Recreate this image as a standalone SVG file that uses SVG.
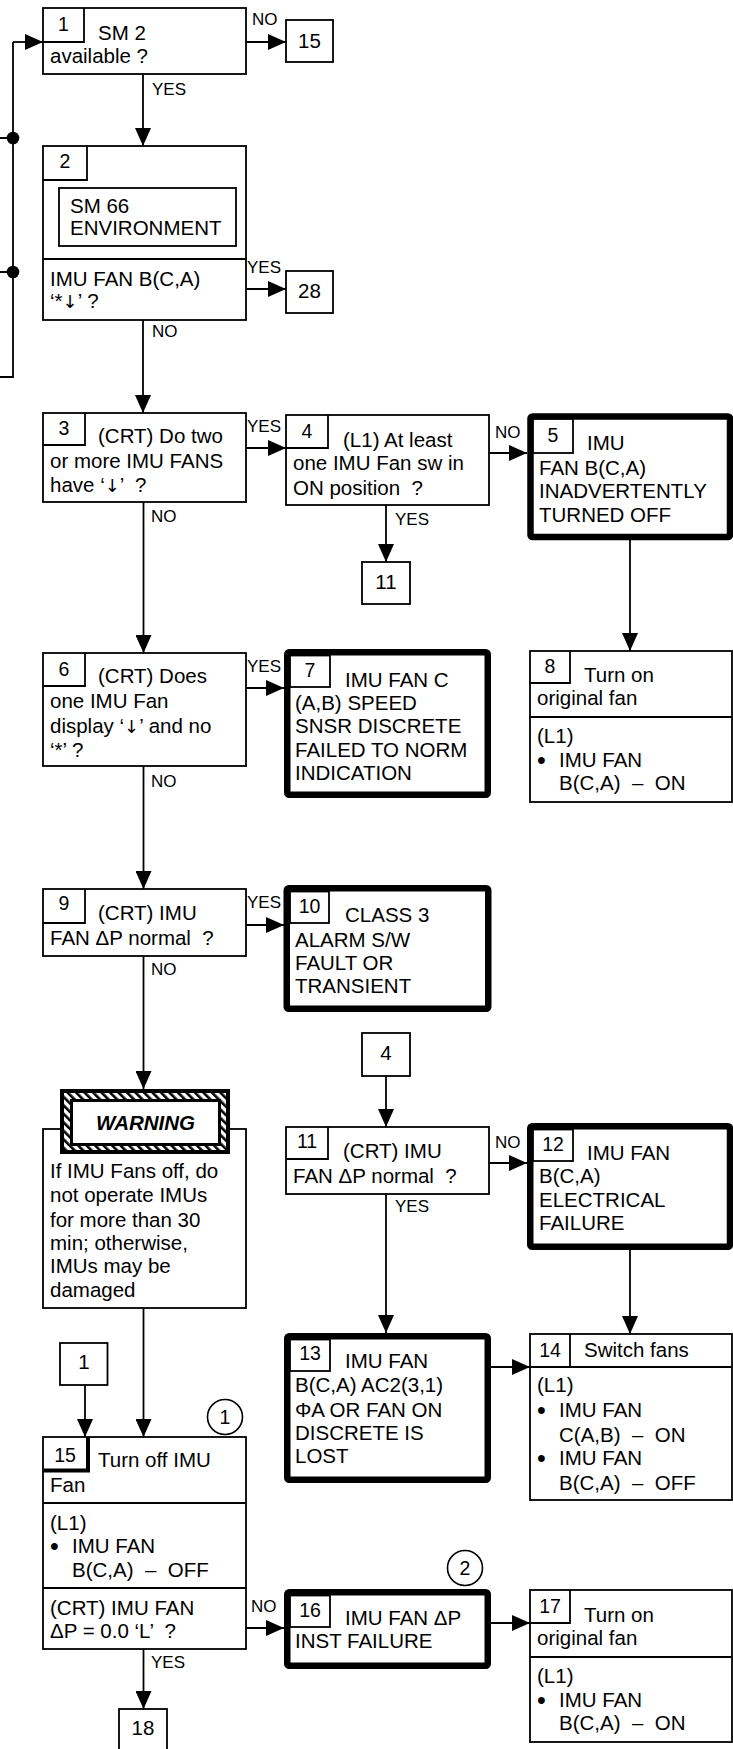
<svg xmlns="http://www.w3.org/2000/svg" width="733" height="1749" viewBox="0 0 733 1749">
<style>
text{font-family:"Liberation Sans",Arial,sans-serif;fill:#000}
.t{font-size:20.5px}
.n{font-size:19.5px;text-anchor:middle}
.r{font-size:20.5px;text-anchor:middle}
.l{font-size:17px}
.ar{font-family:"DejaVu Sans",sans-serif;font-size:18px}
.bu{font-size:25px}
.box{fill:#fff;stroke:#000;stroke-width:1.8}
.thick{fill:#fff;stroke:#000;stroke-width:6.5}
.ln{fill:none;stroke:#000;stroke-width:1.8}
.c{fill:none;stroke:#000;stroke-width:1.8}
.a{fill:none;stroke:#000;stroke-width:1.8;marker-end:url(#ah)}
.w{font-size:20.5px;font-weight:bold;font-style:italic;text-anchor:middle}
</style>
<defs>
<marker id="ah" markerWidth="18" markerHeight="16" refX="18" refY="8" orient="auto" markerUnits="userSpaceOnUse">
<path d="M0,0 L18,8 L0,16 z" fill="#000"/>
</marker>
<pattern id="hatch" width="6" height="6" patternUnits="userSpaceOnUse" patternTransform="rotate(-45)">
<rect width="6" height="6" fill="#fff"/>
<rect width="2.6" height="6" fill="#000"/>
</pattern>
</defs>
<rect width="733" height="1749" fill="#fff"/>

<g id="connectors">
<path class="c" d="M0,138 H13 M0,272 H13 M0,377 H13 V42"/>
<path class="a" d="M13,42 H43"/>
<circle cx="13" cy="138" r="6.3" fill="#000"/>
<circle cx="13" cy="272" r="6.3" fill="#000"/>
<path class="a" d="M246,42 H286"/>
<text class="l" x="252" y="25">NO</text>
<path class="a" d="M143,74 V146"/>
<text class="l" x="152" y="95">YES</text>
<path class="a" d="M246,289 H286"/>
<text class="l" x="247" y="273">YES</text>
<path class="a" d="M143,320 V413"/>
<text class="l" x="152" y="337">NO</text>
<path class="a" d="M246,448 H286"/>
<text class="l" x="247" y="432">YES</text>
<path class="a" d="M489,453 H527"/>
<text class="l" x="495" y="438">NO</text>
<path class="a" d="M386,505 V562"/>
<text class="l" x="395" y="525">YES</text>
<path class="a" d="M630,540 V651"/>
<path class="a" d="M143.5,502 V653"/>
<text class="l" x="151" y="522">NO</text>
<path class="a" d="M246,688 H284"/>
<text class="l" x="247" y="672">YES</text>
<path class="a" d="M143.5,766 V889"/>
<text class="l" x="151" y="787">NO</text>
<path class="a" d="M246,925 H284"/>
<text class="l" x="247" y="908">YES</text>
<path class="a" d="M143.5,956 V1089"/>
<text class="l" x="151" y="975">NO</text>
<path class="a" d="M386,1076 V1127"/>
<path class="a" d="M489,1163 H527"/>
<text class="l" x="495" y="1148">NO</text>
<path class="a" d="M386,1194 V1333"/>
<text class="l" x="395" y="1212">YES</text>
<path class="a" d="M630,1250 V1334"/>
<path class="a" d="M491,1367 H530"/>
<path class="a" d="M143.5,1308 V1437"/>
<path class="a" d="M85,1385 V1437"/>
<path class="a" d="M246,1628 H284"/>
<text class="l" x="251" y="1612">NO</text>
<path class="a" d="M491,1623 H530"/>
<path class="a" d="M143.5,1649 V1709"/>
<text class="l" x="151" y="1668">YES</text>
</g>

<g id="ref15"><rect class="box" x="286" y="20" width="47" height="42"/><text class="r" x="309.5" y="48">15</text></g>
<g id="ref28"><rect class="box" x="286" y="271" width="47" height="42"/><text class="r" x="309.5" y="298">28</text></g>
<g id="ref11"><rect class="box" x="362" y="562" width="48" height="42"/><text class="r" x="386" y="589">11</text></g>
<g id="ref4"><rect class="box" x="362" y="1033" width="48" height="43"/><text class="r" x="386" y="1060">4</text></g>
<g id="ref1"><rect class="box" x="60" y="1343" width="47.5" height="42"/><text class="r" x="84" y="1369">1</text></g>
<g id="ref18"><rect class="box" x="119" y="1709" width="48" height="60"/><text class="r" x="143" y="1735">18</text></g>

<g id="node1">
<rect class="box" x="43" y="8" width="203" height="66"/>
<path class="ln" d="M43,42 H84 V8"/>
<text class="n" x="63.5" y="31">1</text>
<text class="t" x="98" y="40">SM 2</text>
<text class="t" x="50" y="63">available ?</text>
</g>

<g id="node2">
<rect class="box" x="43" y="146" width="203" height="174"/>
<path class="ln" d="M43,180 H87 V146 M43,259 H246"/>
<rect class="box" x="59" y="188" width="177" height="58"/>
<text class="n" x="65" y="168">2</text>
<text class="t" x="70" y="213">SM 66</text>
<text class="t" x="70" y="235">ENVIRONMENT</text>
<text class="t" x="50" y="286">IMU FAN B(C,A)</text>
<text class="t" x="50" y="308">‘*<tspan class="ar">↓</tspan>’ ?</text>
</g>

<g id="node3">
<rect class="box" x="43" y="413" width="203" height="89"/>
<path class="ln" d="M43,445 H85 V413"/>
<text class="n" x="64" y="435">3</text>
<text class="t" x="98" y="443">(CRT) Do two</text>
<text class="t" x="50" y="468">or more IMU FANS</text>
<text class="t" x="50" y="492" xml:space="preserve">have ‘<tspan class="ar">↓</tspan>’  ?</text>
</g>

<g id="node4">
<rect class="box" x="286" y="415" width="203" height="90"/>
<path class="ln" d="M286,448 H328 V415"/>
<text class="n" x="307" y="438">4</text>
<text class="t" x="343" y="447">(L1) At least</text>
<text class="t" x="293" y="470">one IMU Fan sw in</text>
<text class="t" x="293" y="495" xml:space="preserve">ON position  ?</text>
</g>

<g id="node5">
<rect class="thick" x="530.5" y="416.5" width="199.5" height="120.5" rx="2"/>
<rect class="box" x="533" y="419" width="40" height="34"/>
<text class="n" x="553" y="442">5</text>
<text class="t" x="587" y="450">IMU</text>
<text class="t" x="539" y="475">FAN B(C,A)</text>
<text class="t" x="539" y="498">INADVERTENTLY</text>
<text class="t" x="539" y="522">TURNED OFF</text>
</g>

<g id="node6">
<rect class="box" x="43" y="653" width="203" height="113"/>
<path class="ln" d="M43,686 H85 V653"/>
<text class="n" x="64" y="676">6</text>
<text class="t" x="98" y="683">(CRT) Does</text>
<text class="t" x="50" y="708">one IMU Fan</text>
<text class="t" x="50" y="733">display ‘<tspan class="ar">↓</tspan>’ and no</text>
<text class="t" x="50" y="757">‘*’ ?</text>
</g>

<g id="node7">
<rect class="thick" x="287.25" y="652.25" width="200.5" height="142.5" rx="2"/>
<rect class="box" x="290" y="655.5" width="40" height="31.5"/>
<text class="n" x="310" y="677">7</text>
<text class="t" x="345" y="687">IMU FAN C</text>
<text class="t" x="295" y="710">(A,B) SPEED</text>
<text class="t" x="295" y="733">SNSR DISCRETE</text>
<text class="t" x="295" y="757">FAILED TO NORM</text>
<text class="t" x="295" y="780">INDICATION</text>
</g>

<g id="node8">
<rect class="box" x="530" y="651" width="202" height="151"/>
<path class="ln" d="M530,683 H570 V651 M530,717 H732"/>
<text class="n" x="550" y="673">8</text>
<text class="t" x="584" y="682">Turn on</text>
<text class="t" x="537" y="705">original fan</text>
<text class="t" x="537" y="743">(L1)</text>
<text class="bu" x="537" y="769">•</text>
<text class="t" x="559" y="767">IMU FAN</text>
<text class="t" x="559" y="790" xml:space="preserve">B(C,A)  –  ON</text>
</g>

<g id="node9">
<rect class="box" x="43" y="889" width="203" height="67"/>
<path class="ln" d="M43,923 H85 V889"/>
<text class="n" x="64" y="910">9</text>
<text class="t" x="98" y="920">(CRT) IMU</text>
<text class="t" x="50" y="945" xml:space="preserve">FAN ΔP normal  ?</text>
</g>

<g id="node10">
<rect class="thick" x="286.75" y="888.25" width="201.5" height="120.5" rx="2"/>
<rect class="box" x="290" y="891.5" width="39" height="31.5"/>
<text class="n" x="309.5" y="913">10</text>
<text class="t" x="345" y="922">CLASS 3</text>
<text class="t" x="295" y="947">ALARM S/W</text>
<text class="t" x="295" y="970">FAULT OR</text>
<text class="t" x="295" y="993">TRANSIENT</text>
</g>

<g id="warning">
<rect class="box" x="43" y="1129" width="203" height="179"/>
<rect x="62" y="1091" width="166" height="61" fill="url(#hatch)" stroke="#000" stroke-width="4"/>
<rect x="71.5" y="1100.5" width="148" height="44" fill="#fff" stroke="#000" stroke-width="3"/>
<text class="w" x="145.5" y="1130">WARNING</text>
<text class="t" x="50" y="1178">If IMU Fans off, do</text>
<text class="t" x="50" y="1202">not operate IMUs</text>
<text class="t" x="50" y="1227">for more than 30</text>
<text class="t" x="50" y="1250">min; otherwise,</text>
<text class="t" x="50" y="1273">IMUs may be</text>
<text class="t" x="50" y="1297">damaged</text>
</g>

<g id="node11">
<rect class="box" x="286" y="1127" width="203" height="67"/>
<path class="ln" d="M286,1159 H328 V1127"/>
<text class="n" x="307" y="1148">11</text>
<text class="t" x="343" y="1158">(CRT) IMU</text>
<text class="t" x="293" y="1183" xml:space="preserve">FAN ΔP normal  ?</text>
</g>

<g id="node12">
<rect class="thick" x="530.25" y="1126.25" width="199.75" height="120.5" rx="2"/>
<rect class="box" x="533" y="1129.5" width="40" height="31.5"/>
<text class="n" x="553" y="1151">12</text>
<text class="t" x="587" y="1160">IMU FAN</text>
<text class="t" x="539" y="1183">B(C,A)</text>
<text class="t" x="539" y="1207">ELECTRICAL</text>
<text class="t" x="539" y="1230">FAILURE</text>
</g>

<g id="node13">
<rect class="thick" x="287.25" y="1336.25" width="200.5" height="143.5" rx="2"/>
<rect class="box" x="290" y="1339.5" width="40" height="31.5"/>
<text class="n" x="310" y="1360">13</text>
<text class="t" x="345" y="1368">IMU FAN</text>
<text class="t" x="295" y="1392">B(C,A) AC2(3,1)</text>
<text class="t" x="295" y="1417">ΦA OR FAN ON</text>
<text class="t" x="295" y="1440">DISCRETE IS</text>
<text class="t" x="295" y="1463">LOST</text>
</g>

<g id="node14">
<rect class="box" x="530" y="1334" width="202" height="166"/>
<path class="ln" d="M530,1367 H732 M570,1367 V1334"/>
<text class="n" x="550" y="1357">14</text>
<text class="t" x="584" y="1357">Switch fans</text>
<text class="t" x="537" y="1392">(L1)</text>
<text class="bu" x="537" y="1419">•</text>
<text class="t" x="559" y="1417">IMU FAN</text>
<text class="t" x="559" y="1442" xml:space="preserve">C(A,B)  –  ON</text>
<text class="bu" x="537" y="1467">•</text>
<text class="t" x="559" y="1465">IMU FAN</text>
<text class="t" x="559" y="1490" xml:space="preserve">B(C,A)  –  OFF</text>
</g>

<g id="node15">
<rect class="box" x="43" y="1437" width="203" height="212"/>
<path fill="none" stroke="#000" stroke-width="4" d="M43,1470.5 H88 V1437"/>
<path class="ln" d="M43,1503 H246 M43,1588 H246"/>
<text class="n" x="65" y="1462">15</text>
<text class="t" x="98" y="1467">Turn off IMU</text>
<text class="t" x="50" y="1492">Fan</text>
<text class="t" x="50" y="1530">(L1)</text>
<text class="bu" x="50" y="1555">•</text>
<text class="t" x="72" y="1553">IMU FAN</text>
<text class="t" x="72" y="1577" xml:space="preserve">B(C,A)  –  OFF</text>
<text class="t" x="50" y="1615">(CRT) IMU FAN</text>
<text class="t" x="50" y="1638" xml:space="preserve">ΔP = 0.0 ‘L’  ?</text>
</g>

<g id="note1">
<circle cx="225" cy="1417" r="17.5" fill="#fff" stroke="#000" stroke-width="1.6"/>
<text class="n" x="225" y="1424">1</text>
</g>

<g id="node16">
<rect class="thick" x="287.25" y="1592.25" width="200.5" height="73.5" rx="2"/>
<rect class="box" x="290" y="1595.5" width="40" height="31.5"/>
<text class="n" x="310" y="1617">16</text>
<text class="t" x="345" y="1625">IMU FAN ΔP</text>
<text class="t" x="295" y="1648">INST FAILURE</text>
</g>

<g id="note2">
<circle cx="465" cy="1568" r="17.5" fill="#fff" stroke="#000" stroke-width="1.6"/>
<text class="n" x="465" y="1575">2</text>
</g>

<g id="node17">
<rect class="box" x="530" y="1590" width="202" height="152"/>
<path class="ln" d="M530,1623 H570 V1590 M530,1657 H732"/>
<text class="n" x="550" y="1613">17</text>
<text class="t" x="584" y="1622">Turn on</text>
<text class="t" x="537" y="1645">original fan</text>
<text class="t" x="537" y="1683">(L1)</text>
<text class="bu" x="537" y="1709">•</text>
<text class="t" x="559" y="1707">IMU FAN</text>
<text class="t" x="559" y="1730" xml:space="preserve">B(C,A)  –  ON</text>
</g>
</svg>
